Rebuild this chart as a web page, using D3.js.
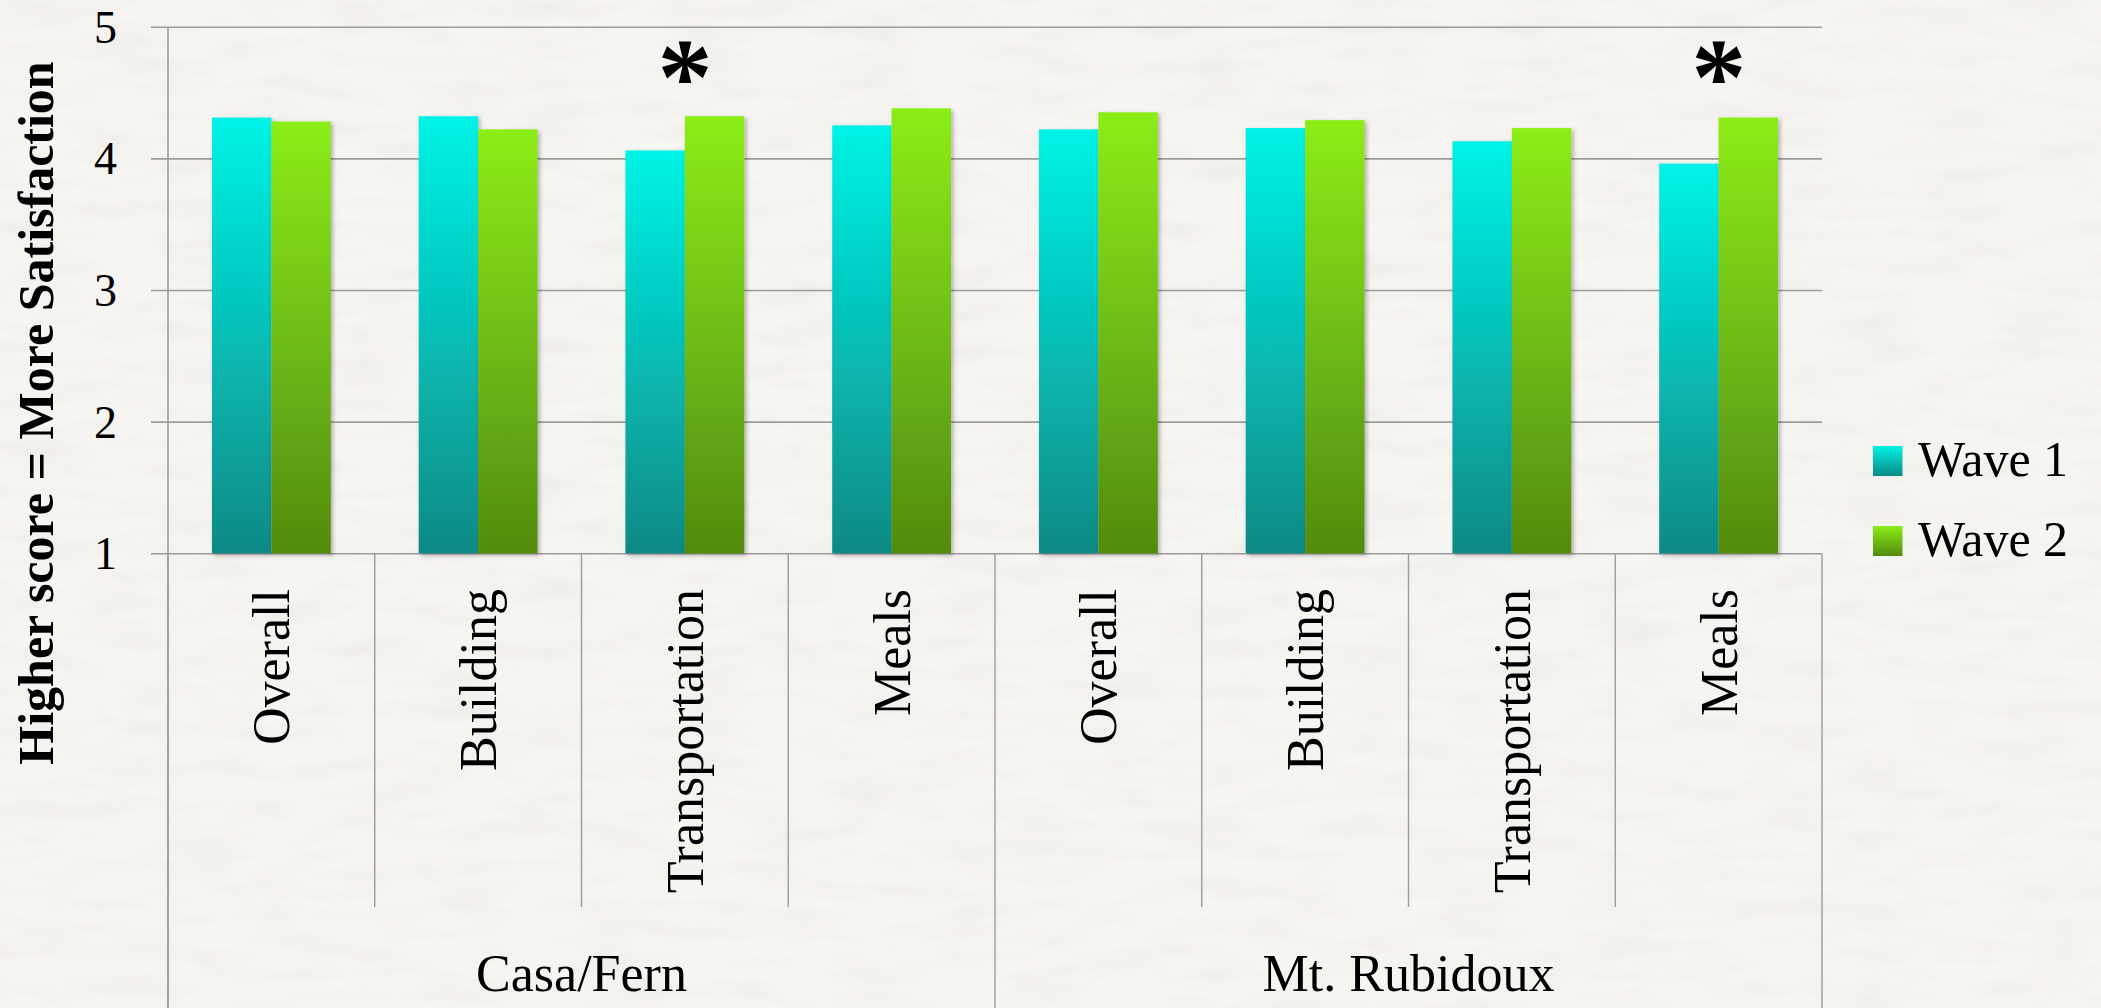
<!DOCTYPE html>
<html lang="en">
<head>
<meta charset="utf-8">
<title>Satisfaction by wave</title>
<script src="https://d3js.org/d3.v7.min.js"></script>
<style>
  body { margin: 0; background: #f6f4f1; }
  text { font-family: "Liberation Serif", "Times New Roman", serif; fill: #000; }
</style>
</head>
<body>
<script>
// data
var categories = ["Overall", "Building", "Transportation", "Meals", "Overall", "Building", "Transportation", "Meals"];
var groups = ["Casa/Fern", "Mt. Rubidoux"];
var series = ["Wave 1", "Wave 2"];
var wave1 = [4.31, 4.32, 4.06, 4.25, 4.22, 4.23, 4.13, 3.96];
var wave2 = [4.28, 4.22, 4.32, 4.38, 4.35, 4.29, 4.23, 4.31];
var starred = [2, 7];   // categories marked as significant
var yTicks = [1, 2, 3, 4, 5];
var yTitle = "Higher score = More Satisfaction";

var w = 2101, h = 1008;
// (window.top is read-only, so no "top" here)
var plotL = 168, plotR = 1822, plotT = 26.7, plotB = 553.3;

var svg = d3.select("body").append("svg")
    .attr("width", w)
    .attr("height", h);

var defs = svg.append("defs");

// paper texture
var paper = defs.append("filter").attr("id", "paper")
    .attr("x", 0).attr("y", 0).attr("width", 1).attr("height", 1);
paper.append("feTurbulence").attr("type", "fractalNoise")
    .attr("baseFrequency", "0.012 0.05").attr("numOctaves", 3).attr("seed", 4);
paper.append("feColorMatrix").attr("type", "matrix")
    .attr("values", "0 0 0 0 0.55  0 0 0 0 0.53  0 0 0 0 0.5  0 0 0 -0.9 0.55");

svg.append("rect").attr("width", w).attr("height", h).attr("fill", "#f7f5f2");
svg.append("rect").attr("width", w).attr("height", h).attr("filter", "url(#paper)").attr("opacity", 0.3);

var grads = [["#03f3e7", "#0a8985"], ["#8ced18", "#528b10"]];
grads.forEach(function(g, i) {
    var lg = defs.append("linearGradient").attr("id", "grad" + i)
        .attr("x1", 0).attr("y1", 0).attr("x2", 0).attr("y2", 1);
    lg.append("stop").attr("offset", "0%").attr("stop-color", g[0]);
    lg.append("stop").attr("offset", "100%").attr("stop-color", g[1]);
});

var shadow = defs.append("filter").attr("id", "shadow")
    .attr("x", "-10%").attr("y", "-5%").attr("width", "130%").attr("height", "115%");
shadow.append("feDropShadow").attr("dx", 2).attr("dy", 2).attr("stdDeviation", 2)
    .attr("flood-color", "#000").attr("flood-opacity", 0.3);

var x0 = d3.scaleBand().domain(d3.range(categories.length)).range([plotL, plotR]);
var x1 = d3.scaleBand().domain(series).range([0, x0.bandwidth()]).paddingOuter(0.74);
var y = d3.scaleLinear().domain([1, 5]).range([plotB, plotT]);

// gridlines + tick labels
var yAxis = svg.append("g")
    .attr("transform", "translate(151,0)")
    .call(d3.axisLeft(y).tickValues(yTicks).tickFormat(d3.format("d"))
        .tickSize(-(plotR - 151)).tickPadding(34));
yAxis.select(".domain").remove();
yAxis.selectAll(".tick line").attr("stroke", "#9c9c9c").attr("stroke-width", 1.6);
yAxis.selectAll(".tick text").attr("font-size", 46).attr("dy", "0.34em");

// y axis line
svg.append("line").attr("x1", plotL).attr("x2", plotL).attr("y1", plotT).attr("y2", h)
    .attr("stroke", "#9c9c9c").attr("stroke-width", 1.6);

// bars
var rows = d3.range(categories.length).map(function(i) {
    return { i: i, vals: [wave1[i], wave2[i]] };
});
var cat = svg.append("g").selectAll("g").data(rows).join("g")
    .attr("transform", function(d) { return "translate(" + x0(d.i) + ",0)"; });
cat.selectAll("rect")
    .data(function(d) { return d.vals.map(function(v, k) { return { k: k, v: v }; }); })
    .join("rect")
    .attr("x", function(d) { return x1(series[d.k]); })
    .attr("width", x1.bandwidth())
    .attr("y", function(d) { return y(d.v); })
    .attr("height", function(d) { return y(1) - y(d.v); })
    .attr("fill", function(d) { return "url(#grad" + d.k + ")"; })
    .attr("filter", "url(#shadow)");

// category dividers
var divs = d3.range(categories.length + 1);
svg.append("g").selectAll("line").data(divs).join("line")
    .attr("x1", function(d) { return plotL + d * x0.step(); })
    .attr("x2", function(d) { return plotL + d * x0.step(); })
    .attr("y1", plotB)
    .attr("y2", function(d) { return d % 4 === 0 ? h : 907; })
    .attr("stroke", "#9c9c9c").attr("stroke-width", 1.4);

// category labels
svg.append("g").selectAll("text").data(d3.range(categories.length)).join("text")
    .attr("transform", function(d) {
        return "translate(" + (x0(d) + x0.bandwidth() / 2 + 18) + ",589) rotate(-90)";
    })
    .attr("text-anchor", "end")
    .attr("font-size", 52)
    .text(function(d) { return categories[d]; });

// group labels
svg.append("g").selectAll("text").data(groups).join("text")
    .attr("x", function(d, i) { return x0(i * 4) + x0.step() * 2; })
    .attr("y", 991)
    .attr("text-anchor", "middle")
    .attr("font-size", 52)
    .text(function(d) { return d; });

// significance markers
svg.append("g").selectAll("text").data(starred).join("text")
    .attr("x", function(d) { return x0(d) + x0.bandwidth() / 2; })
    .attr("y", 114)
    .attr("text-anchor", "middle")
    .attr("font-size", 110)
    .attr("font-weight", "bold")
    .text("*");

// y title
svg.append("text")
    .attr("transform", "translate(53,413) rotate(-90)")
    .attr("text-anchor", "middle")
    .attr("font-size", 50)
    .attr("font-weight", "bold")
    .text(yTitle);

// legend
var leg = svg.append("g").selectAll("g").data(series).join("g")
    .attr("transform", function(d, i) { return "translate(1873," + (446 + i * 80) + ")"; });
leg.append("rect").attr("width", 29.5).attr("height", 30)
    .attr("fill", function(d, i) { return "url(#grad" + i + ")"; });
leg.append("text").attr("x", 45).attr("y", 30).attr("font-size", 50)
    .text(function(d) { return d; });
</script>
</body>
</html>
